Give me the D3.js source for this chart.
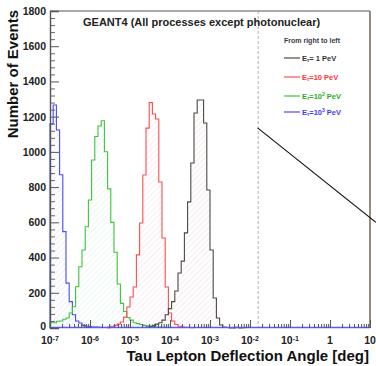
<!DOCTYPE html>
<html>
<head>
<meta charset="utf-8">
<script src="https://cdn.jsdelivr.net/npm/d3@7"></script>
<style>
  body { margin: 0; background: #fff; }
  svg { display: block; font-family: "Liberation Sans", Arial, sans-serif; }
</style>
</head>
<body>
<div id="chart"></div>
<script>
// histogram binning: 100 log bins from 1e-7 to 10 deg
const logMin = -7, logMax = 1, nBins = 100;

// counts per bin, each series starts at its own bin index
const blackStart = 30;
const blackCounts = [5, 10, 15, 22, 30, 45, 75, 110, 150, 210, 312, 380, 540, 716, 937, 1221, 1295, 1295, 1164, 784, 443, 170, 57, 17, 6, 3, 0, 0, 4, 0, 2, 3];
const redStart = 18;
const redCounts = [5, 10, 15, 22, 34, 62, 119, 176, 233, 415, 596, 869, 1135, 1280, 1215, 1187, 829, 511, 233, 85, 40, 20, 10, 6, 4, 3, 2];
const greenStart = 0;
const greenCounts = [30, 30, 38, 40, 50, 57, 85, 121, 234, 348, 443, 575, 727, 954, 1087, 1147, 1177, 1001, 790, 600, 430, 250, 140, 94, 60, 45, 30, 25, 20, 15, 12, 10, 8, 6, 5, 4];
const blueStart = 0;
const blueCounts = [1160, 1266, 1124, 870, 547, 255, 150, 75, 40, 28, 15, 10, 8, 6, 5, 4, 3, 3, 2];

const series = [
  { name: "1 PeV",   start: blackStart, counts: blackCounts, color: "#4a4a44", hatch: "#e6cfd8" },
  { name: "10 PeV",  start: redStart,   counts: redCounts,   color: "#ff4d4d", hatch: "#f7d0dc" },
  { name: "10^2 PeV", start: greenStart, counts: greenCounts, color: "#3cc43c", hatch: "#cdeedb" },
  { name: "10^3 PeV", start: blueStart,  counts: blueCounts,  color: "#4747ff", hatch: "#d8d8f7" }
];

const yMajor = [0, 200, 400, 600, 800, 1000, 1200, 1400, 1600, 1800];
const xDecades = [1e-7, 1e-6, 1e-5, 1e-4, 1e-3, 1e-2, 1e-1, 1, 10];
const xLabels = [["10", "-7"], ["10", "-6"], ["10", "-5"], ["10", "-4"], ["10", "-3"], ["10", "-2"], ["10", "-1"], ["1", ""], ["10", ""]];

// legend rows
const legendRows = [
  { color: "#333333", pre: "= 1 PeV", sup: "", post: "" },
  { color: "#ff3333", pre: "=10 PeV", sup: "", post: "" },
  { color: "#22b022", pre: "=10", sup: "2", post: " PeV" },
  { color: "#3a3aff", pre: "=10", sup: "3", post: " PeV" }
];

// cut line (dashed) and annotation line, in data units
const cutAngle = 0.016;
const arrowLine = [{ a: 0.0155, n: 1136 }, { a: 14, n: 600 }];

const width = 376, height = 366;
const svg = d3.select("#chart").append("svg")
  .attr("width", width).attr("height", height);

const x = d3.scaleLog().domain([1e-7, 10]).range([50, 370]);
const y = d3.scaleLinear().domain([0, 1800]).range([328, 11]);

const edge = i => Math.pow(10, logMin + (logMax - logMin) * i / nBins);

// hatch patterns
const defs = svg.append("defs");
series.forEach((s, k) => {
  const p = defs.append("pattern")
    .attr("id", "hatch" + k)
    .attr("patternUnits", "userSpaceOnUse")
    .attr("width", 4).attr("height", 4)
    .attr("patternTransform", "rotate(45)");
  p.append("line").attr("x1", 0).attr("y1", 0).attr("x2", 0).attr("y2", 4)
    .attr("stroke", s.hatch).attr("stroke-width", 0.8);
});

const histPath = s => {
  const pts = [[x(edge(s.start)), y(0)]];
  s.counts.forEach((c, k) => {
    pts.push([x(edge(s.start + k)), y(c)]);
    pts.push([x(edge(s.start + k + 1)), y(c)]);
  });
  pts.push([x(edge(s.start + s.counts.length)), y(0)]);
  return d3.line()(pts);
};

const plot = svg.append("g");
// fills first, then outlines
plot.selectAll("path.fill").data(series).enter().append("path")
  .attr("class", "fill")
  .attr("d", histPath)
  .attr("fill", (d, k) => "url(#hatch" + k + ")")
  .attr("stroke", "none");
plot.selectAll("path.line").data(series.slice().reverse()).enter().append("path")
  .attr("class", "line")
  .attr("d", histPath)
  .attr("fill", "none")
  .attr("stroke", d => d.color)
  .attr("stroke-width", 1.1);

// dashed cut line
svg.append("line")
  .attr("x1", x(cutAngle)).attr("x2", x(cutAngle))
  .attr("y1", y(1800)).attr("y2", y(0))
  .attr("stroke", "#b0b0a0").attr("stroke-width", 1)
  .attr("stroke-dasharray", "3,2");

// frame
svg.append("line").attr("x1", 50).attr("x2", 370).attr("y1", y(1800)).attr("y2", y(1800))
  .attr("stroke", "#8c8c88").attr("stroke-width", 1.6);
svg.append("line").attr("x1", 370).attr("x2", 370).attr("y1", y(1800)).attr("y2", y(0))
  .attr("stroke", "#8a8074").attr("stroke-width", 1.8);
svg.append("line").attr("x1", 50).attr("x2", 370).attr("y1", y(0) - 0.5).attr("y2", y(0) - 0.5)
  .attr("stroke", "#5a5aff").attr("stroke-width", 1.4);

// y axis
const yMinor = d3.range(0, 1801, 40).filter(v => v % 200 !== 0);
svg.append("g").attr("transform", "translate(50,0)")
  .call(d3.axisLeft(y).tickValues(yMinor).tickSize(-5).tickFormat(""))
  .call(g => g.select(".domain").remove())
  .call(g => g.selectAll("line").attr("stroke", "#666"));
svg.append("g").attr("transform", "translate(50,0)")
  .call(d3.axisLeft(y).tickValues(yMajor).tickSize(-9).tickPadding(4).tickFormat(d3.format("d")))
  .call(g => g.select(".domain").attr("stroke", "#555").attr("stroke-width", 1.4))
  .call(g => g.selectAll("line").attr("stroke", "#555"))
  .call(g => g.selectAll("text")
    .attr("font-family", "'Liberation Sans', Arial, sans-serif")
    .attr("font-size", 10.5).attr("font-weight", "bold").attr("fill", "#222"))
  .call(g => g.selectAll(".tick").filter(d => d === 0).select("text").attr("dy", "0.1em"));

// x axis ticks
const xMinor = x.ticks().filter(v => !xDecades.some(d => Math.abs(d - v) / d < 1e-6));
svg.append("g").attr("transform", "translate(0," + y(0) + ")")
  .call(d3.axisBottom(x).tickValues(xMinor).tickSize(-4).tickFormat(""))
  .call(g => g.select(".domain").remove())
  .call(g => g.selectAll("line").attr("stroke", "#555"));
svg.append("g").attr("transform", "translate(0," + y(0) + ")")
  .call(d3.axisBottom(x).tickValues(xDecades).tickSize(-8).tickFormat(""))
  .call(g => g.select(".domain").remove())
  .call(g => g.selectAll("line").attr("stroke", "#555"));

const xl = svg.append("g").selectAll("text").data(xDecades).enter().append("text")
  .attr("x", d => x(d))
  .attr("y", 344)
  .attr("text-anchor", "middle")
  .attr("font-size", 10.5).attr("font-weight", "bold").attr("fill", "#222");
xl.append("tspan").text((d, i) => xLabels[i][0]);
xl.append("tspan").attr("font-size", 7).attr("dy", -3.5).text((d, i) => xLabels[i][1]);

// axis titles
svg.append("text")
  .attr("x", 369).attr("y", 361)
  .attr("text-anchor", "end")
  .attr("font-size", 15).attr("font-weight", "bold").attr("fill", "#111")
  .text("Tau Lepton Deflection Angle [deg]");
svg.append("text")
  .attr("transform", "translate(18,10) rotate(-90)")
  .attr("text-anchor", "end")
  .attr("font-size", 15).attr("font-weight", "bold").attr("fill", "#111")
  .text("Number of Events");

// title
svg.append("text")
  .attr("x", 83).attr("y", 26)
  .attr("font-size", 11).attr("font-weight", "bold").attr("fill", "#222")
  .text("GEANT4 (All processes except photonuclear)");

// legend
svg.append("text")
  .attr("x", 284).attr("y", 43)
  .attr("font-size", 7).attr("font-weight", "bold").attr("fill", "#3a3a4a")
  .text("From right to left");
const legendY = [58, 77, 96, 112];
const lg = svg.append("g").selectAll("g").data(legendRows).enter().append("g")
  .attr("transform", (d, i) => "translate(284," + legendY[i] + ")");
lg.append("line").attr("x1", 0).attr("x2", 16).attr("y1", 0).attr("y2", 0)
  .attr("stroke", (d, i) => series[i].color).attr("stroke-width", 1.2);
const lt = lg.append("text").attr("x", 18).attr("y", 2.5)
  .attr("font-size", 7.5).attr("font-weight", "bold").attr("fill", d => d.color);
lt.append("tspan").text("E");
lt.append("tspan").attr("font-size", 5).attr("dy", 1.5).text("τ");
lt.append("tspan").attr("dy", -1.5).text(d => d.pre);
lt.append("tspan").attr("font-size", 5).attr("dy", -3).text(d => d.sup);
lt.append("tspan").attr("dy", 3).text(d => d.post);

// annotation line running off the right edge
svg.append("path")
  .attr("d", d3.line().x(d => x(d.a)).y(d => y(d.n))(arrowLine))
  .attr("stroke", "#111").attr("stroke-width", 1.1).attr("fill", "none");
</script>
</body>
</html>
